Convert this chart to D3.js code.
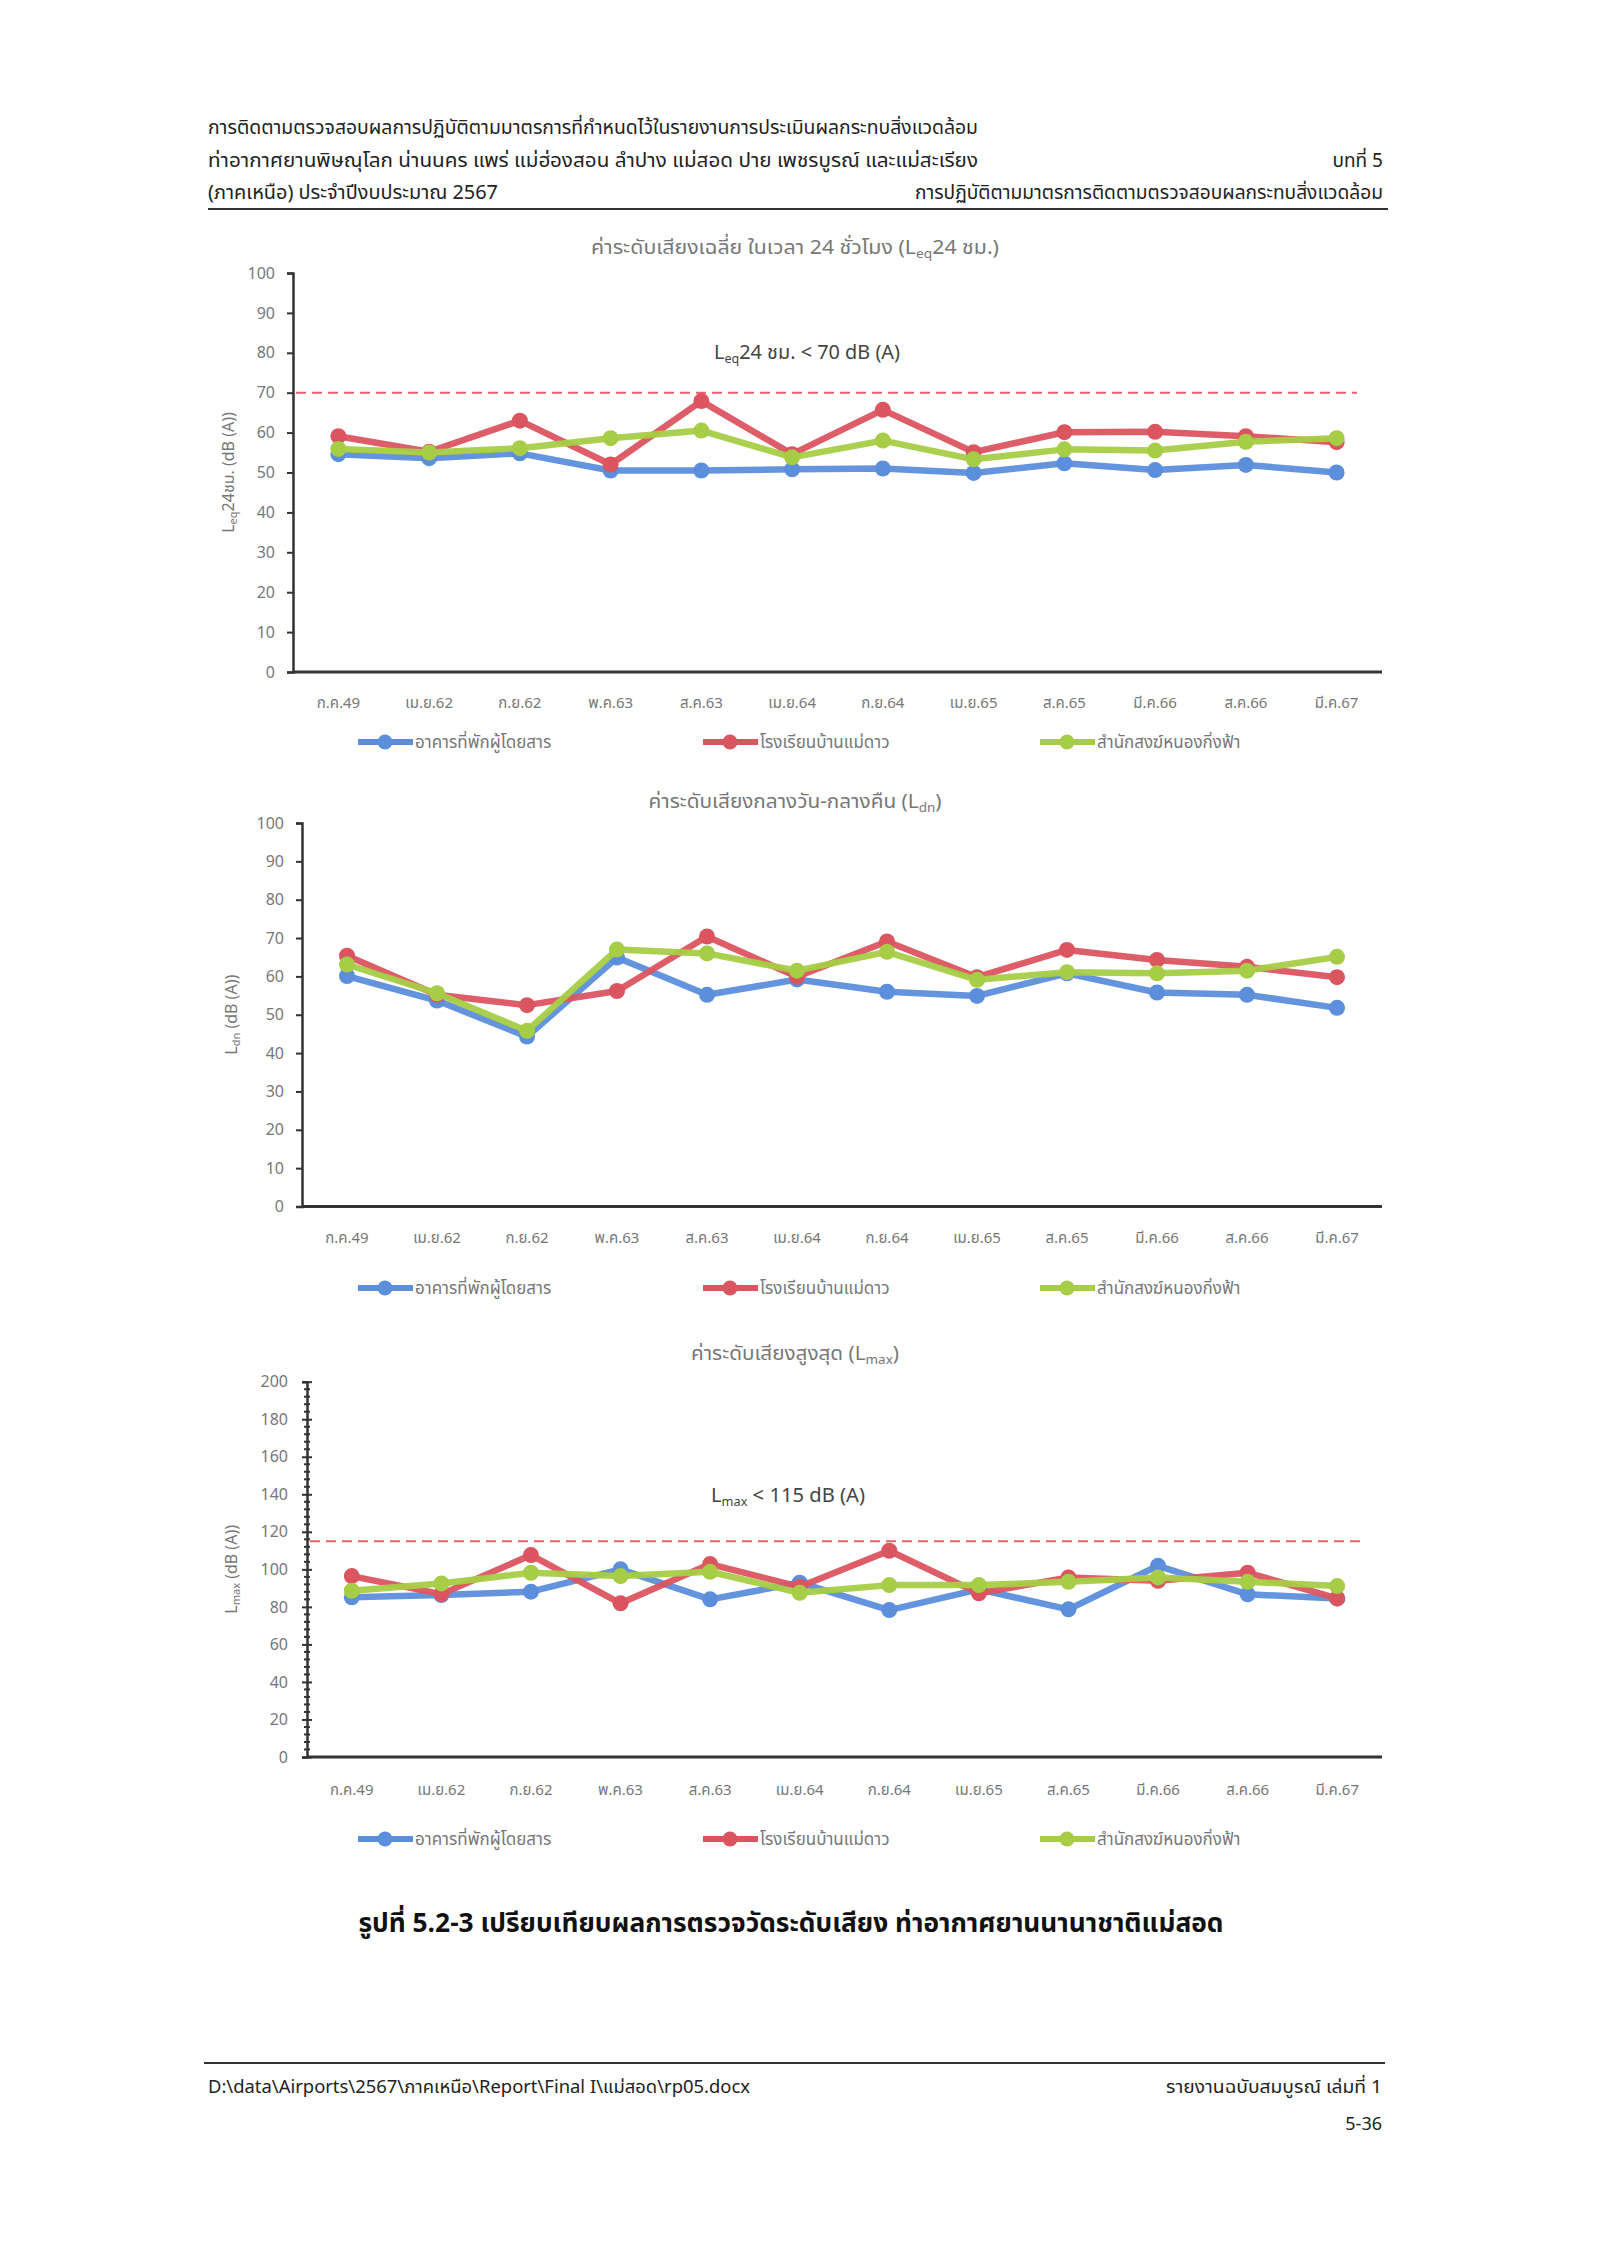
<!DOCTYPE html>
<html>
<head>
<meta charset="utf-8">
<script src="https://cdnjs.cloudflare.com/ajax/libs/d3/7.8.5/d3.min.js"></script>
<style>
  body { margin: 0; background: #fff; }
  text { font-family: "Noto Sans Thai", "Tahoma", "DejaVu Sans", sans-serif; }
</style>
</head>
<body>
<script>
// categories (survey periods) shared by all three charts
var categories = ["ก.ค.49", "เม.ย.62", "ก.ย.62", "พ.ค.63", "ส.ค.63", "เม.ย.64",
  "ก.ย.64", "เม.ย.65", "ส.ค.65", "มี.ค.66", "ส.ค.66", "มี.ค.67"];

var stations = ["อาคารที่พักผู้โดยสาร", "โรงเรียนบ้านแม่ดาว", "สำนักสงฆ์หนองกิ่งฟ้า"];

// Leq 24 hr
var leqTerminal = [54.6, 53.6, 54.8, 50.5, 50.5, 50.8, 51.0, 49.9, 52.3, 50.6, 51.9, 50.0];
var leqSchool   = [59.1, 55.2, 63.0, 52.0, 67.9, 54.6, 65.7, 55.1, 60.1, 60.2, 59.1, 57.6];
var leqTemple   = [55.9, 55.0, 56.1, 58.6, 60.5, 53.8, 58.0, 53.3, 55.8, 55.5, 57.7, 58.6];

// Ldn
var ldnTerminal = [60.1, 53.7, 44.3, 64.9, 55.2, 59.2, 56.0, 54.9, 60.8, 55.8, 55.2, 51.8];
var ldnSchool   = [65.4, 55.2, 52.5, 56.2, 70.4, 59.9, 69.1, 59.8, 66.9, 64.3, 62.5, 59.8];
var ldnTemple   = [63.1, 55.6, 45.8, 67.0, 66.0, 61.5, 66.4, 59.1, 61.1, 60.8, 61.5, 65.1];

// Lmax
var maxTerminal = [85.1, 86.3, 88.1, 100.0, 84.0, 92.9, 78.3, 89.3, 78.7, 101.9, 86.7, 84.5];
var maxSchool   = [96.4, 86.8, 107.6, 81.9, 102.8, 90.7, 109.9, 87.2, 95.7, 93.9, 98.2, 84.5];
var maxTemple   = [88.6, 92.5, 98.2, 96.4, 98.7, 87.5, 91.6, 91.6, 93.4, 95.7, 93.4, 91.1];

var colors = ["#5b8edb", "#db5560", "#a7cc45"];

var svgWidth = 1600;
var svgHeight = 2252;

var svg = d3.select("body").append("svg")
  .attr("width", svgWidth)
  .attr("height", svgHeight);

// ---------- page header ----------
var hdr = svg.append("g").attr("fill", "#222").style("font-size", "19px");
hdr.append("text").attr("x", 208).attr("y", 134).attr("textLength", 770).attr("lengthAdjust", "spacingAndGlyphs")
  .text("การติดตามตรวจสอบผลการปฏิบัติตามมาตรการที่กำหนดไว้ในรายงานการประเมินผลกระทบสิ่งแวดล้อม");
hdr.append("text").attr("x", 208).attr("y", 167).attr("textLength", 770).attr("lengthAdjust", "spacingAndGlyphs")
  .text("ท่าอากาศยานพิษณุโลก น่านนคร แพร่ แม่ฮ่องสอน ลำปาง แม่สอด ปาย เพชรบูรณ์ และแม่สะเรียง");
hdr.append("text").attr("x", 1383).attr("y", 167).attr("text-anchor", "end").text("บทที่ 5");
hdr.append("text").attr("x", 208).attr("y", 199).attr("textLength", 290).attr("lengthAdjust", "spacingAndGlyphs")
  .text("(ภาคเหนือ) ประจำปีงบประมาณ 2567");
hdr.append("text").attr("x", 1383).attr("y", 199).attr("text-anchor", "end")
  .attr("textLength", 468).attr("lengthAdjust", "spacingAndGlyphs")
  .text("การปฏิบัติตามมาตรการติดตามตรวจสอบผลกระทบสิ่งแวดล้อม");
svg.append("line").attr("x1", 208).attr("x2", 1388).attr("y1", 209).attr("y2", 209)
  .attr("stroke", "#333").attr("stroke-width", 2);

// ---------- chart helper ----------
function drawChart(cfg) {
  var g = svg.append("g");

  var x = d3.scaleBand().domain(categories).range([cfg.left, cfg.right]);
  var y = d3.scaleLinear().domain([0, cfg.yMax]).range([cfg.bottom, cfg.top]);

  // title
  var t = g.append("text").attr("x", 795).attr("y", cfg.titleY + 7)
    .attr("text-anchor", "middle").attr("fill", "#777").style("font-size", "20px")
    .attr("textLength", cfg.titleW).attr("lengthAdjust", "spacingAndGlyphs");
  cfg.title.forEach(function(p) {
    t.append("tspan").attr("baseline-shift", p.sub ? "-30%" : null)
      .style("font-size", p.sub ? "13px" : null).text(p.s);
  });

  // y axis
  var yAxis = d3.axisLeft(y).tickValues(d3.range(0, cfg.yMax + 1, cfg.step))
    .tickSize(cfg.cross ? 5 : 6).tickPadding(cfg.cross ? 14 : 12);
  var ya = g.append("g").attr("transform", "translate(" + cfg.left + ",0)").call(yAxis);
  ya.select(".domain").attr("stroke", "#333").attr("stroke-width", 2.5);
  ya.selectAll(".tick line").attr("stroke", "#333").attr("stroke-width", 2);
  ya.selectAll(".tick text").attr("fill", "#777").style("font-size", "16px");
  if (cfg.cross) {
    ya.selectAll(".tick line").attr("x2", -5).attr("x1", 5);
    // minor ticks
    g.append("g").selectAll("line")
      .data(d3.range(0, cfg.yMax + 1, cfg.minor).filter(function(v) { return v % cfg.step !== 0; }))
      .enter().append("line")
      .attr("x1", cfg.left - 3).attr("x2", cfg.left + 3)
      .attr("y1", d => y(d)).attr("y2", d => y(d))
      .attr("stroke", "#333").attr("stroke-width", 2);
  }

  // x axis line
  g.append("line").attr("x1", cfg.left).attr("x2", cfg.right)
    .attr("y1", y(0)).attr("y2", y(0)).attr("stroke", "#333").attr("stroke-width", 3);

  // x labels
  g.selectAll(".xl").data(categories).enter().append("text")
    .attr("x", d => x(d) + x.bandwidth() / 2).attr("y", cfg.xLabelY + 6)
    .attr("text-anchor", "middle").attr("fill", "#777").style("font-size", "15px")
    .text(d => d);

  // y axis label
  var yl = g.append("text")
    .attr("transform", "translate(" + cfg.yLabelX + "," + ((cfg.top + cfg.bottom) / 2) + ") rotate(-90)")
    .attr("text-anchor", "middle").attr("dy", "0.35em").attr("fill", "#777").style("font-size", "16px");
  cfg.yLabel.forEach(function(p) {
    yl.append("tspan").attr("baseline-shift", p.sub ? "-30%" : null)
      .style("font-size", p.sub ? "11px" : null).text(p.s);
  });

  // limit line and note
  if (cfg.limit) {
    g.append("line").attr("x1", cfg.left + 3).attr("x2", cfg.limitEnd)
      .attr("y1", y(cfg.limit)).attr("y2", y(cfg.limit))
      .attr("stroke", "#e8606a").attr("stroke-width", 2).attr("stroke-dasharray", "10,6");
    var n = g.append("text").attr("x", cfg.noteX).attr("y", cfg.noteY + 7)
      .attr("text-anchor", "middle").attr("fill", "#444").style("font-size", "19px")
      .attr("textLength", cfg.noteW).attr("lengthAdjust", "spacingAndGlyphs");
    cfg.note.forEach(function(p) {
      n.append("tspan").attr("baseline-shift", p.sub ? "-30%" : null)
        .style("font-size", p.sub ? "12px" : null).text(p.s);
    });
  }

  // series lines and markers
  var line = d3.line()
    .x((d, i) => x(categories[i]) + x.bandwidth() / 2)
    .y(d => y(d));

  cfg.series.forEach(function(vals, k) {
    g.append("path").datum(vals).attr("d", line)
      .attr("fill", "none").attr("stroke", colors[k]).attr("stroke-width", 6.5)
      .attr("stroke-linejoin", "round").attr("opacity", 0.95);
    g.append("g").selectAll("circle").data(vals).enter().append("circle")
      .attr("cx", (d, i) => x(categories[i]) + x.bandwidth() / 2)
      .attr("cy", d => y(d)).attr("r", 8)
      .attr("fill", colors[k]);
  });

  // legend
  var legX = [358, 703, 1040];
  stations.forEach(function(s, k) {
    var lg = g.append("g").attr("transform", "translate(" + legX[k] + "," + cfg.legendY + ")");
    lg.append("line").attr("x1", 0).attr("x2", 55).attr("stroke", colors[k]).attr("stroke-width", 6);
    lg.append("circle").attr("cx", 27).attr("r", 7.5).attr("fill", colors[k]);
    lg.append("text").attr("x", 57).attr("y", 6).attr("fill", "#777").style("font-size", "17px").text(s);
  });
}

drawChart({
  left: 293, right: 1382, top: 273, bottom: 672, yMax: 100, step: 10,
  titleY: 247, titleW: 408,
  title: [{ s: "ค่าระดับเสียงเฉลี่ย ในเวลา 24 ชั่วโมง (L" }, { s: "eq", sub: true }, { s: "24 ชม.)" }],
  yLabelX: 228,
  yLabel: [{ s: "L" }, { s: "eq", sub: true }, { s: "24ชม. (dB (A))" }],
  limit: 70, limitEnd: 1357, noteX: 807, noteY: 352, noteW: 186,
  note: [{ s: "L" }, { s: "eq", sub: true }, { s: "24 ชม. <  70 dB (A)" }],
  xLabelY: 702, legendY: 742,
  series: [leqTerminal, leqSchool, leqTemple]
});

drawChart({
  left: 302, right: 1382, top: 823, bottom: 1206.5, yMax: 100, step: 10,
  titleY: 801, titleW: 293,
  title: [{ s: "ค่าระดับเสียงกลางวัน-กลางคืน (L" }, { s: "dn", sub: true }, { s: ")" }],
  yLabelX: 231,
  yLabel: [{ s: "L" }, { s: "dn", sub: true }, { s: "  (dB (A))" }],
  xLabelY: 1237, legendY: 1288,
  series: [ldnTerminal, ldnSchool, ldnTemple]
});

drawChart({
  left: 307, right: 1382, top: 1381.7, bottom: 1757, yMax: 200, step: 20, minor: 4, cross: true,
  titleY: 1353, titleW: 208,
  title: [{ s: "ค่าระดับเสียงสูงสุด (L" }, { s: "max", sub: true }, { s: ")" }],
  yLabelX: 231,
  yLabel: [{ s: "L" }, { s: "max", sub: true }, { s: "  (dB (A))" }],
  limit: 115, limitEnd: 1366, noteX: 788, noteY: 1495, noteW: 154,
  note: [{ s: "L" }, { s: "max", sub: true }, { s: " <  115 dB (A)" }],
  xLabelY: 1789, legendY: 1839,
  series: [maxTerminal, maxSchool, maxTemple]
});

// ---------- caption ----------
svg.append("text").attr("x", 791).attr("y", 1932).attr("text-anchor", "middle")
  .attr("fill", "#111").style("font-size", "26px").style("font-weight", "bold")
  .attr("textLength", 865).attr("lengthAdjust", "spacingAndGlyphs")
  .text("รูปที่ 5.2-3 เปรียบเทียบผลการตรวจวัดระดับเสียง ท่าอากาศยานนานาชาติแม่สอด");

// ---------- footer ----------
svg.append("line").attr("x1", 204).attr("x2", 1385).attr("y1", 2063).attr("y2", 2063)
  .attr("stroke", "#333").attr("stroke-width", 2);
var ft = svg.append("g").attr("fill", "#222").style("font-size", "18px");
ft.append("text").attr("x", 208).attr("y", 2093).attr("textLength", 542).attr("lengthAdjust", "spacingAndGlyphs")
  .text("D:\\data\\Airports\\2567\\ภาคเหนือ\\Report\\Final I\\แม่สอด\\rp05.docx");
ft.append("text").attr("x", 1382).attr("y", 2093).attr("text-anchor", "end")
  .attr("textLength", 216).attr("lengthAdjust", "spacingAndGlyphs")
  .text("รายงานฉบับสมบูรณ์ เล่มที่ 1");
ft.append("text").attr("x", 1382).attr("y", 2130).attr("text-anchor", "end").text("5-36");
</script>
</body>
</html>
